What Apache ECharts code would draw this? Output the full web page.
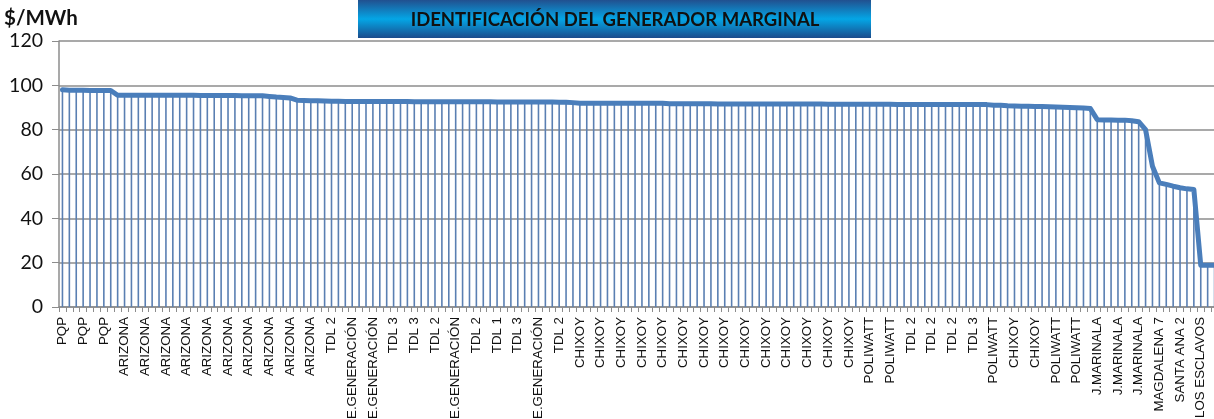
<!DOCTYPE html>
<html lang="es">
<head>
    <meta charset="UTF-8">
    <title>Identificación del generador marginal</title>
    <script src="https://cdn.jsdelivr.net/npm/echarts@6/dist/echarts.min.js"></script>
    <style>
        html, body { margin: 0; padding: 0; background: #fff; overflow: hidden; }
    </style>
</head>
<body>
<div id="grafica" style="width: 1214px;height:419px;"></div>
<script>
    // etiquetas visibles del eje X (una cada 3 horas)
    var etiquetas = [
        'PQP', 'PQP', 'PQP',
        'ARIZONA', 'ARIZONA', 'ARIZONA', 'ARIZONA', 'ARIZONA',
        'ARIZONA', 'ARIZONA', 'ARIZONA', 'ARIZONA', 'ARIZONA',
        'TDL 2', 'E.GENERACIÓN', 'E.GENERACIÓN', 'TDL 3', 'TDL 3', 'TDL 2',
        'E.GENERACIÓN', 'TDL 2', 'TDL 1', 'TDL 3', 'E.GENERACIÓN', 'TDL 2',
        'CHIXOY', 'CHIXOY', 'CHIXOY', 'CHIXOY', 'CHIXOY', 'CHIXOY', 'CHIXOY',
        'CHIXOY', 'CHIXOY', 'CHIXOY', 'CHIXOY', 'CHIXOY', 'CHIXOY', 'CHIXOY',
        'POLIWATT', 'POLIWATT', 'TDL 2', 'TDL 2', 'TDL 2', 'TDL 3',
        'POLIWATT', 'CHIXOY', 'CHIXOY', 'POLIWATT', 'POLIWATT',
        'J.MARINALA', 'J.MARINALA', 'J.MARINALA',
        'MAGDALENA 7', 'SANTA ANA 2', 'LOS ESCLAVOS'
    ];

    // precio marginal por hora ($/MWh)
    var precios = [
        98.0, 97.8, 97.8, 97.8, 97.7, 97.7, 97.7, 97.7, 95.5, 95.5,
        95.5, 95.5, 95.5, 95.5, 95.5, 95.5, 95.5, 95.5, 95.5, 95.5,
        95.4, 95.4, 95.4, 95.4, 95.4, 95.4, 95.3, 95.3, 95.3, 95.3,
        95.0, 94.7, 94.5, 94.3, 93.3, 93.2, 93.1, 93.0, 92.9, 92.8,
        92.8, 92.7, 92.7, 92.7, 92.7, 92.7, 92.7, 92.7, 92.7, 92.7,
        92.7, 92.6, 92.6, 92.6, 92.6, 92.6, 92.6, 92.6, 92.6, 92.6,
        92.6, 92.6, 92.6, 92.5, 92.5, 92.5, 92.5, 92.5, 92.5, 92.5,
        92.5, 92.5, 92.4, 92.4, 92.2, 91.9, 91.9, 91.9, 91.9, 91.9,
        91.9, 91.9, 91.9, 91.9, 91.9, 91.9, 91.9, 91.9, 91.7, 91.7,
        91.7, 91.7, 91.7, 91.7, 91.7, 91.6, 91.6, 91.6, 91.6, 91.6,
        91.6, 91.6, 91.6, 91.6, 91.6, 91.6, 91.6, 91.6, 91.6, 91.6,
        91.6, 91.5, 91.5, 91.5, 91.5, 91.5, 91.5, 91.5, 91.5, 91.5,
        91.5, 91.4, 91.4, 91.4, 91.4, 91.4, 91.4, 91.4, 91.4, 91.3,
        91.3, 91.3, 91.3, 91.3, 91.3, 91.0, 91.0, 90.8, 90.7, 90.6,
        90.6, 90.5, 90.4, 90.3, 90.2, 90.1, 90.0, 89.9, 89.8, 89.5,
        84.5, 84.4, 84.4, 84.3, 84.3, 84.0, 83.6, 80.0, 63.5, 56.0,
        55.3, 54.5, 53.8, 53.3, 53.0, 18.8, 18.8, 18.8
    ];

    var ticksY = [0, 20, 40, 60, 80, 100, 120];

    var categorias = precios.map(function (v, i) {
        return etiquetas[Math.floor(i / 3)];
    });

    var myChart = echarts.init(document.getElementById('grafica'));
    myChart.setOption({
        animation: false,
        backgroundColor: '#fff',
        grid: { left: 59, right: -4, top: 41, bottom: 112, outerBoundsMode: 'none', containLabel: false },
        graphic: [
            {
                type: 'rect',
                left: 358, top: 0,
                shape: { width: 513, height: 38 },
                style: {
                    fill: new echarts.graphic.LinearGradient(0, 0, 0, 1, [
                        { offset: 0, color: '#21508f' },
                        { offset: 0.5, color: '#04a6e6' },
                        { offset: 1, color: '#1b4c8c' }
                    ])
                }
            },
            {
                type: 'text',
                x: 615, y: 20,
                style: {
                    text: 'IDENTIFICACIÓN DEL GENERADOR MARGINAL',
                    fill: '#111',
                    font: 'bold 18.5px Lato',
                    textAlign: 'center',
                    textVerticalAlign: 'middle'
                }
            },
            {
                type: 'text',
                x: 4, y: 18,
                style: {
                    text: '$/MWh',
                    fill: '#111',
                    font: 'bold 20.5px Lato',
                    textAlign: 'left',
                    textVerticalAlign: 'middle'
                }
            }
        ],
        xAxis: {
            type: 'category',
            data: categorias,
            boundaryGap: true,
            axisLine: { lineStyle: { color: '#8c8c8c', width: 1.5 } },
            axisTick: { show: true, interval: 0, length: 5, lineStyle: { color: '#8c8c8c' } },
            axisLabel: {
                interval: 2,
                rotate: 90,
                margin: 10,
                fontFamily: 'Liberation Sans',
                fontSize: 13.3,
                color: '#111'
            },
            splitLine: { show: false }
        },
        yAxis: {
            type: 'value',
            min: 0, max: 120, interval: 20,
            axisLine: { show: true, lineStyle: { color: '#8c8c8c', width: 1.5 } },
            axisTick: { show: true, length: 7, lineStyle: { color: '#8c8c8c' } },
            axisLabel: {
                margin: 16,
                fontFamily: 'Lato',
                fontSize: 19.5,
                color: '#111',
                formatter: function (v) { return ticksY.indexOf(v) >= 0 ? String(v) : ''; }
            },
            splitLine: { show: true, lineStyle: { color: '#8c8c8c', width: 1.5 } }
        },
        series: [
            {
                // líneas de caída
                type: 'bar',
                data: precios,
                barWidth: 1.6,
                itemStyle: { color: '#5a7fb2' },
                silent: true,
                z: 2
            },
            {
                type: 'line',
                data: precios,
                showSymbol: false,
                symbol: 'none',
                lineStyle: { color: '#4a7ebb', width: 5, join: 'round', cap: 'round' },
                z: 3
            }
        ]
    });
</script>
</body>
</html>
